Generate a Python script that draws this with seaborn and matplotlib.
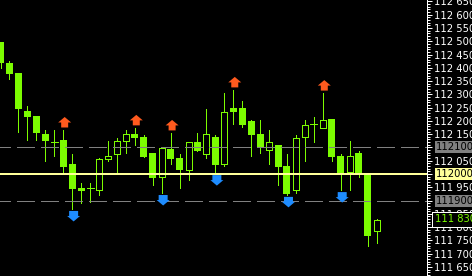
import numpy as np
import pandas as pd
import matplotlib
matplotlib.use("Agg")
import matplotlib.pyplot as plt
import matplotlib.transforms as mtransforms
from matplotlib.path import Path
from matplotlib.patches import Rectangle
from matplotlib.ticker import FixedLocator, MultipleLocator
import seaborn as sns

# ---------------- data ----------------
opens = [112.497, 112.418, 112.380, 112.237, 112.218, 112.151, 112.121, 112.128, 112.038, 111.947,
         111.947, 111.936, 112.056, 112.075, 112.124, 112.151, 112.139, 112.079, 111.985, 112.094,
         112.060, 112.015, 112.121, 112.075, 112.139, 112.034, 112.249, 112.249, 112.200, 112.151,
         112.090, 112.109, 112.030, 111.936, 112.136, 112.188, 112.173, 112.207, 112.068, 112.004,
         112.079, 112.000, 111.785]
highs = [112.497, 112.426, 112.380, 112.256, 112.218, 112.166, 112.166, 112.166, 112.075, 111.966,
         111.966, 112.060, 112.124, 112.136, 112.166, 112.173, 112.147, 112.079, 112.098, 112.154,
         112.075, 112.121, 112.154, 112.245, 112.147, 112.305, 112.316, 112.275, 112.203, 112.203,
         112.166, 112.109, 112.075, 112.147, 112.203, 112.215, 112.305, 112.207, 112.075, 112.124,
         112.087, 112.000, 111.830]
lows = [112.399, 112.358, 112.158, 112.128, 112.128, 112.049, 112.068, 112.004, 111.868, 111.891,
        111.895, 111.921, 112.049, 112.008, 112.079, 112.109, 112.064, 111.959, 111.928, 112.038,
        111.947, 111.977, 112.087, 112.060, 112.008, 112.030, 112.188, 112.177, 112.068, 112.079,
        112.038, 111.959, 111.921, 111.928, 112.049, 112.121, 112.173, 112.049, 111.940, 111.940,
        111.989, 111.729, 111.740]
closes = [112.418, 112.377, 112.245, 112.215, 112.154, 112.124, 112.121, 112.026, 111.944, 111.936,
          111.947, 112.060, 112.068, 112.128, 112.151, 112.136, 112.064, 111.985, 112.098, 112.056,
          112.015, 112.121, 112.087, 112.151, 112.034, 112.237, 112.234, 112.185, 112.147, 112.098,
          112.121, 112.026, 111.925, 112.139, 112.188, 112.188, 112.207, 112.064, 112.004, 112.068,
          112.004, 111.766, 111.830]

up_signal_bar = [7, 15, 19, 26, 36]
up_signal_price = [112.194, 112.202, 112.183, 112.345, 112.333]
down_signal_bar = [8, 18, 24, 32, 38]
down_signal_price = [111.842, 111.902, 111.977, 111.895, 111.913]

tick_values = [111.65, 111.70, 111.75, 111.80, 111.85, 111.90, 111.95, 112.00, 112.05, 112.10,
               112.15, 112.20, 112.25, 112.30, 112.35, 112.40, 112.45, 112.50, 112.55, 112.60, 112.65]
tick_labels = ["111 650", "111 700", "111 750", "111 800", "111 850", "111 900", "111 950",
               "112 000", "112 050", "112 100", "112 150", "112 200", "112 250", "112 300",
               "112 350", "112 400", "112 450", "112 500", "112 550", "112 600", "112 650"]

gray_levels = [112.10, 111.90]
gray_level_labels = ["112100", "111900"]
yellow_level = 112.00
yellow_level_label = "112000"
current_price = 111.830
current_price_label = "111 830"

# ---------------- style ----------------
GREEN = "#7CFC00"
ORANGE = "#FF5A1E"
BLUE = "#1E8CFF"
YELLOW = "#FFFF99"
GRAY = "#808080"

sns.set_theme(style="ticks", rc={
    "axes.facecolor": "black", "figure.facecolor": "black",
    "savefig.facecolor": "black", "axes.grid": False,
})
plt.rcParams["font.family"] = ["DejaVu Sans"]

W, H, DPI = 472, 276, 100
AX_W = 427
fig = plt.figure(figsize=(W / DPI, H / DPI), dpi=DPI)
ax = fig.add_axes([0, 0, AX_W / W, 1])

XMIN, XMAX = -0.056, 47.64
YMIN, YMAX = 112.0 - 102 / 265.5, 112.0 + 174 / 265.5
ax.set_xlim(XMIN, XMAX)
ax.set_ylim(YMIN, YMAX)
pxx = (XMAX - XMIN) / AX_W          # data units per pixel (x)
pxy = (YMAX - YMIN) / H             # data units per pixel (y)
LW = 72 / DPI                       # 1 pixel in points

df = pd.DataFrame({"o": opens, "h": highs, "l": lows, "c": closes})
df["x"] = np.arange(len(df))

# wicks
ax.vlines(df["x"], df["l"], df["h"], color=GREEN, lw=LW, antialiased=False, zorder=2)

body_w = 7 * pxx
bear = df[df["c"] < df["o"]]
bull = df[df["c"] > df["o"]]
doji = df[df["c"] == df["o"]]

ax.bar(bear["x"], np.maximum(bear["o"] - bear["c"], pxy), bottom=bear["c"], width=body_w,
       color=GREEN, linewidth=0, antialiased=False, zorder=3)
ax.bar(bull["x"], bull["c"] - bull["o"] - pxy, bottom=bull["o"] + pxy / 2, width=body_w - pxx,
       color="black", edgecolor=GREEN, linewidth=LW, antialiased=False, zorder=3)
ax.hlines(doji["o"], doji["x"] - body_w / 2, doji["x"] + body_w / 2, color=GREEN, lw=LW,
          antialiased=False, zorder=3)

# levels
for lv in gray_levels:
    ax.axhline(lv, color=GRAY, lw=LW, ls=(7, (18, 6)), antialiased=False, zorder=4)
ax.axhline(yellow_level, color=YELLOW, lw=2 * LW, antialiased=False, zorder=4)

# signal arrows
up_path = Path([(0, 5.5), (6.5, 0), (3.5, 0), (3.5, -5), (-3.5, -5), (-3.5, 0), (-6.5, 0), (0, 5.5)],
               [Path.MOVETO] + [Path.LINETO] * 6 + [Path.CLOSEPOLY])
dn_path = Path([(0, -5.5), (6.5, 0), (4.5, 0), (4.5, 5), (-4.5, 5), (-4.5, 0), (-6.5, 0), (0, -5.5)],
               [Path.MOVETO] + [Path.LINETO] * 6 + [Path.CLOSEPOLY])
msize = (13 * LW) ** 2
arrow_dx = 1.5 * pxx
up_df = pd.DataFrame({"x": np.array(up_signal_bar) + arrow_dx, "y": up_signal_price})
dn_df = pd.DataFrame({"x": np.array(down_signal_bar) + arrow_dx, "y": down_signal_price})
sns.scatterplot(data=up_df, x="x", y="y", marker=up_path, s=msize, color=ORANGE,
                edgecolor="none", linewidth=0, ax=ax, zorder=5, legend=False)
sns.scatterplot(data=dn_df, x="x", y="y", marker=dn_path, s=msize, color=BLUE,
                edgecolor="none", linewidth=0, ax=ax, zorder=5, legend=False)
ax.set_xlabel("")
ax.set_ylabel("")

# axes / ticks
for s in ["top", "left", "bottom"]:
    ax.spines[s].set_visible(False)
ax.spines["right"].set_color("white")
ax.spines["right"].set_linewidth(LW)
ax.set_xticks([])
ax.yaxis.tick_right()
ax.yaxis.set_major_locator(FixedLocator(tick_values))
# tick labels hidden under the level boxes are left blank (the boxes carry that text)
covered = gray_levels + [yellow_level]
shown_labels = ["" if any(abs(v - c) < 1e-9 for c in covered) else lab
                for v, lab in zip(tick_values, tick_labels)]
ax.set_yticklabels(shown_labels)
ax.yaxis.set_minor_locator(MultipleLocator(0.01))
ax.tick_params(axis="y", which="major", direction="out", length=5 * LW, width=LW,
               colors="white", labelsize=7.2, pad=2 * LW)
ax.tick_params(axis="y", which="minor", direction="out", length=3 * LW, width=LW, colors="white")

# price labels on the axis
trans = mtransforms.blended_transform_factory(fig.transFigure, ax.transData)
box_h = 12 * pxy
def level_box(price, text, face, txtcolor, x0px=435, edge=None, h=box_h):
    ax.add_patch(Rectangle((x0px / W, price - h / 2), (W - x0px + 5) / W, h, transform=trans,
                           facecolor=face, edgecolor=edge if edge else "none",
                           linewidth=LW if edge else 0, clip_on=False, zorder=10,
                           antialiased=False))
    ax.text((x0px + 1) / W if not edge else 435 / W, price, text, transform=trans, color=txtcolor,
            fontsize=7.2, ha="left", va="center", clip_on=False, zorder=11)

for lv, lab in zip(gray_levels, gray_level_labels):
    level_box(lv, lab, GRAY, "black")
level_box(yellow_level, yellow_level_label, YELLOW, "black")
level_box(current_price, current_price_label, "black", GREEN, x0px=432, edge="white", h=15 * pxy)

fig.savefig("out.png", dpi=DPI, facecolor="black")
